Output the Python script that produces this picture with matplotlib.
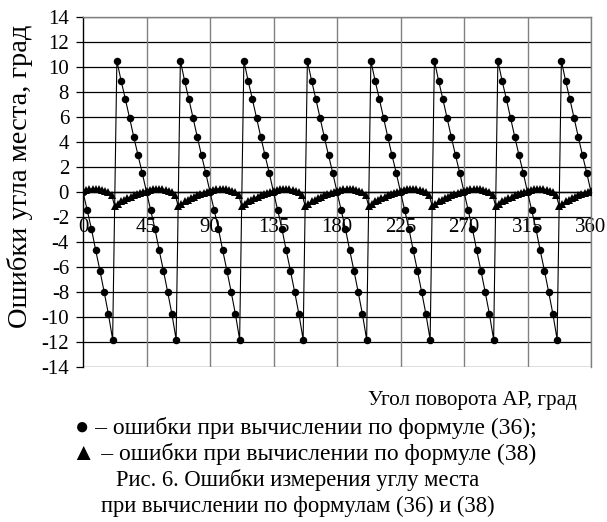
import numpy as np
import matplotlib
matplotlib.use("Agg")
import matplotlib.pyplot as plt

# ---- data -------------------------------------------------------------
# Series 1 (circles): formula (36), step 3 deg
angle36 = list(range(0, 361, 3))
err36 = [
    0.0, -1.47, -2.96, -4.67, -6.29, -8.0, -9.76, -11.8, 10.5, 8.9, 7.44, 5.92, 4.4, 2.93, 1.52,
    0.0, -1.47, -2.96, -4.67, -6.29, -8.0, -9.76, -11.8, 10.5, 8.9, 7.44, 5.92, 4.4, 2.93, 1.52,
    0.0, -1.47, -2.96, -4.67, -6.29, -8.0, -9.76, -11.8, 10.5, 8.9, 7.44, 5.92, 4.4, 2.93, 1.52,
    0.0, -1.47, -2.96, -4.67, -6.29, -8.0, -9.76, -11.8, 10.5, 8.9, 7.44, 5.92, 4.4, 2.93, 1.52,
    0.0, -1.47, -2.96, -4.67, -6.29, -8.0, -9.76, -11.8, 10.5, 8.9, 7.44, 5.92, 4.4, 2.93, 1.52,
    0.0, -1.47, -2.96, -4.67, -6.29, -8.0, -9.76, -11.8, 10.5, 8.9, 7.44, 5.92, 4.4, 2.93, 1.52,
    0.0, -1.47, -2.96, -4.67, -6.29, -8.0, -9.76, -11.8, 10.5, 8.9, 7.44, 5.92, 4.4, 2.93, 1.52,
    0.0, -1.47, -2.96, -4.67, -6.29, -8.0, -9.76, -11.8, 10.5, 8.9, 7.44, 5.92, 4.4, 2.93, 1.52,
    0.0,
]

# Series 2 (triangles): formula (38), step 2.25 deg
angle38 = [i * 2.25 for i in range(161)]
err38 = [
    0.05, 0.17, 0.24, 0.27, 0.27, 0.24, 0.19, 0.11, -0.03, -0.2, -1.15, -0.95, -0.75, -0.62, -0.48, -0.36, -0.26, -0.15, -0.05, 0.02,
    0.05, 0.17, 0.24, 0.27, 0.27, 0.24, 0.19, 0.11, -0.03, -0.2, -1.15, -0.95, -0.75, -0.62, -0.48, -0.36, -0.26, -0.15, -0.05, 0.02,
    0.05, 0.17, 0.24, 0.27, 0.27, 0.24, 0.19, 0.11, -0.03, -0.2, -1.15, -0.95, -0.75, -0.62, -0.48, -0.36, -0.26, -0.15, -0.05, 0.02,
    0.05, 0.17, 0.24, 0.27, 0.27, 0.24, 0.19, 0.11, -0.03, -0.2, -1.15, -0.95, -0.75, -0.62, -0.48, -0.36, -0.26, -0.15, -0.05, 0.02,
    0.05, 0.17, 0.24, 0.27, 0.27, 0.24, 0.19, 0.11, -0.03, -0.2, -1.15, -0.95, -0.75, -0.62, -0.48, -0.36, -0.26, -0.15, -0.05, 0.02,
    0.05, 0.17, 0.24, 0.27, 0.27, 0.24, 0.19, 0.11, -0.03, -0.2, -1.15, -0.95, -0.75, -0.62, -0.48, -0.36, -0.26, -0.15, -0.05, 0.02,
    0.05, 0.17, 0.24, 0.27, 0.27, 0.24, 0.19, 0.11, -0.03, -0.2, -1.15, -0.95, -0.75, -0.62, -0.48, -0.36, -0.26, -0.15, -0.05, 0.02,
    0.05, 0.17, 0.24, 0.27, 0.27, 0.24, 0.19, 0.11, -0.03, -0.2, -1.15, -0.95, -0.75, -0.62, -0.48, -0.36, -0.26, -0.15, -0.05, 0.02,
    0.05,
]

x_ticks = [0, 45, 90, 135, 180, 225, 270, 315, 360]
y_ticks = list(range(-14, 15, 2))

y_label = "Ошибки угла места, град"
x_label = "Угол поворота АР, град"
caption_lines = [
    "● – ошибки при вычислении по формуле (36);",
    "▲ – ошибки при вычислении по формуле (38)",
    "Рис. 6. Ошибки измерения углу места",
    "при вычислении по формулам (36) и (38)",
]

# ---- figure -----------------------------------------------------------
W, H = 607, 522
plt.rcParams['font.family'] = ['Liberation Serif', 'DejaVu Serif', 'DejaVu Sans']
fig = plt.figure(figsize=(W / 100, H / 100), dpi=100)
ax = fig.add_axes([83 / W, 1 - 367 / H, (591 - 83) / W, (367 - 17) / H])

ax.set_xlim(0, 360)
ax.set_ylim(-14, 14)

# gridlines
for yv in y_ticks:
    ax.axhline(yv, color='black', lw=0.9, zorder=1)
for xv in x_ticks[1:]:
    ax.axvline(xv, color='#808080', lw=1.0, zorder=1)

ax.plot(angle38, err38, color='black', lw=0.8, marker='^', markersize=5.2,
        markeredgewidth=0, zorder=3)
ax.plot(angle36, err36, color='black', lw=0.8, marker='o', markersize=5.4,
        markeredgewidth=0, zorder=4)

# spines
ax.spines['bottom'].set_position(('data', 0))
ax.spines['bottom'].set_color('black')
ax.spines['left'].set_color('black')
ax.spines['top'].set_color('#808080')
ax.spines['right'].set_color('#808080')
for s in ax.spines.values():
    s.set_linewidth(1.0)

ax.set_yticks(y_ticks)
ax.set_yticklabels([str(v) for v in y_ticks])
ax.tick_params(axis='y', direction='out', length=5, width=0.9, labelsize=15, pad=5)
ax.set_xticks(x_ticks)
ax.set_xticklabels([str(v) for v in x_ticks])
ax.tick_params(axis='x', length=0, labelsize=15, pad=19)
for lab in ax.get_xticklabels():
    lab.set_clip_on(False)

fig.text(20 / W, 1 - 176 / H, y_label, rotation=90, ha='center', va='center', fontsize=20.5)
fig.text(577 / W, 1 - 401 / H, x_label, ha='right', va='center', fontsize=15.2)

caption_y = [428, 454, 480, 506]
caption_x = [306, 304, 298, 298]
caption_fs = [17, 17, 16.3, 16.3]
for txt, cx, cy, fs in zip(caption_lines, caption_x, caption_y, caption_fs):
    fig.text(cx / W, 1 - cy / H, txt, ha='center', va='center', fontsize=fs,
             family=['Liberation Serif', 'DejaVu Sans'])

fig.savefig('out.png', dpi=100)
